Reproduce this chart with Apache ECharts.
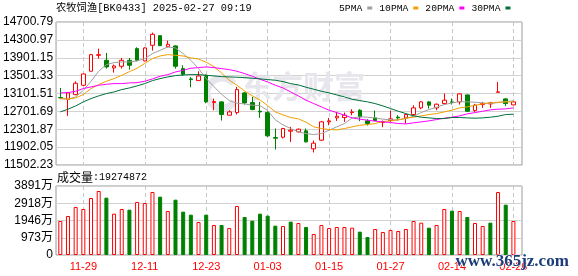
<!DOCTYPE html>
<html><head><meta charset="utf-8">
<script src="https://cdn.jsdelivr.net/npm/echarts@6/dist/echarts.min.js"></script>
<style>html,body{margin:0;padding:0;background:#fff;}#c{width:578px;height:276px;}</style>
</head><body><div id="c"></div>
<script>
const titleText = '农牧饲渔[BK0433] 2025-02-27 09:19';
const volumeText = '成交量:19274872';
const watermarkText = '东方财富';
const siteText = 'www.365jz.com';

const dates = ['11-26','11-27','11-28','11-29','12-02','12-03','12-04','12-05','12-06','12-09',
  '12-10','12-11','12-12','12-13','12-16','12-17','12-18','12-19','12-20','12-23',
  '12-24','12-25','12-26','12-27','12-30','12-31','01-02','01-03','01-06','01-07',
  '01-08','01-09','01-10','01-13','01-14','01-15','01-16','01-17','01-20','01-21',
  '01-22','01-23','01-24','01-27','02-05','02-06','02-07','02-10','02-11','02-12',
  '02-13','02-14','02-17','02-18','02-19','02-20','02-21','02-24','02-25','02-26'];

const opens = [13010,12973,13077,13286,13599,13956,13844,13673,13710,13844,
  14105,13830,14180,14395,14150,14165,13658,13428,13390,13509,
  12899,12914,12616,12675,13115,12899,12705,12675,12117,12124,
  12258,12244,12266,11864,12057,12467,12556,12564,12675,12727,
  12489,12556,12452,12497,12571,12556,12631,12780,12914,12780,
  12876,12914,12914,13070,12720,12854,12869,13128,12981,12847];
const closes = [13003,13115,13331,13539,13971,13970,13696,13718,13844,13733,
  13844,14120,14425,14172,14202,13710,13532,13413,13494,12914,
  12921,12631,12690,13189,12891,12742,12690,12154,12102,12318,
  12281,12303,12020,11990,12467,12489,12593,12616,12690,12579,
  12430,12497,12474,12534,12556,12631,12780,12914,12839,12862,
  12951,12899,13093,12705,12839,12876,12891,13137,12876,12914];
const lows = [12973,12601,13063,13271,13599,13882,13658,13569,13658,13636,
  13822,13822,14060,14165,14135,13658,13494,13241,13390,12884,
  12727,12497,12616,12631,12854,12727,12556,12132,11849,12095,
  12020,12229,12005,11782,12042,12392,12489,12467,12616,12482,
  12385,12482,12348,12467,12497,12430,12601,12750,12765,12727,
  12854,12854,12854,12690,12690,12780,12780,13128,12824,12839];
const highs = [13226,13137,13375,13547,13986,14105,14008,13748,13897,13897,
  14135,14135,14463,14395,14284,14180,13733,13472,13599,13524,
  12988,12929,12727,13249,13137,13025,12914,12705,12318,12333,
  12355,12318,12318,12050,12489,12556,12690,12675,12750,12750,
  12526,12720,12497,12720,12616,12653,12839,12929,12929,12877,
  13100,12988,13100,13078,12869,12914,12914,13360,12996,12929];

const ma5 = [12988,12973,13025,13174,13375,13599,13748,13792,13807,13807,
  13830,13882,13993,14068,14142,14120,13993,13844,13658,13435,
  13256,13085,12943,12884,12869,12839,12832,12720,12511,12400,
  12318,12244,12206,12184,12206,12281,12355,12430,12556,12579,
  12571,12556,12527,12512,12512,12541,12593,12675,12742,12795,
  12854,12891,12921,12914,12906,12891,12877,12899,12921,12936];
const ma10 = [12988,12973,13003,13078,13212,13301,13375,13435,13509,13591,
  13666,13777,13882,13941,13971,13956,13941,13897,13874,13800,
  13703,13561,13398,13286,13159,13048,12958,12832,12690,12623,
  12564,12534,12460,12355,12318,12296,12288,12318,12355,12392,
  12407,12430,12474,12489,12512,12549,12571,12601,12631,12653,
  12690,12728,12780,12802,12839,12869,12891,12906,12914,12914];
const ma20 = [13115,13122,13152,13212,13249,13286,13308,13323,13323,13338,
  13345,13375,13428,13487,13524,13584,13621,13666,13681,13696,
  13681,13658,13636,13599,13547,13487,13420,13360,13286,13226,
  13137,13048,12951,12876,12802,12728,12675,12616,12556,12527,
  12504,12482,12467,12452,12430,12422,12445,12467,12489,12519,
  12549,12571,12601,12646,12675,12705,12735,12750,12757,12780];
const ma30 = [12690,12750,12824,12914,12988,13048,13100,13137,13189,13226,
  13271,13323,13390,13435,13472,13502,13517,13524,13524,13509,
  13494,13480,13472,13465,13457,13442,13428,13413,13398,13368,
  13323,13293,13241,13197,13152,13115,13070,13025,12973,12943,
  12914,12876,12824,12765,12705,12653,12601,12571,12556,12541,
  12541,12564,12564,12556,12549,12556,12571,12593,12631,12638];

const volumes = [1917,2199,2707,2594,3214,3609,3233,2331,2594,2556,
  2989,2932,3553,3289,2481,3120,2444,2274,1861,2274,
  1692,1692,1522,2763,2143,1936,2331,2218,1654,1635,
  1880,1804,1579,1184,1692,1522,1579,1579,1541,1316,
  1015,1466,1297,1410,1353,1466,1917,1823,1541,1692,
  2594,2500,2481,2143,1804,1635,1823,3553,2838,1917];
const volumeUp = [1,1,1,1,1,1,0,1,1,0, 1,1,1,0,1,0,0,0,1,0,
  1,0,1,1,0,0,0,0,0,1, 0,1,0,1,1,1,1,1,1,0,
  0,1,1,1,1,1,1,1,0,1, 1,0,1,0,1,1,0,1,0,1];

const priceTicks = ['11502.23','11902.05','12301.87','12701.69','13101.51','13501.33','13901.15','14300.97','14700.79'];
const volumeTicks = ['0','973万','1946万','2918万','3891万'];
const maNames = ['5PMA','10PMA','20PMA','30PMA'];
const maColors = ['#a0a0a0','#f0a000','#ff00ff','#00703a'];

const RED = '#ff0000', GREEN = '#008000';
const labelIdx = (i) => (i - 3) % 8 === 0;
const DL = 60.3, DW = 453.1;

const chart = echarts.init(document.getElementById('c'), null, {renderer: 'canvas'});
const maData = [ma5, ma10, ma20, ma30];

chart.setOption({
  animation: false,
  backgroundColor: '#fff',
  title: {
    text: titleText, left: 56, top: 2, padding: 0,
    textStyle: {fontFamily: 'Liberation Mono, Noto Sans CJK SC', fontSize: 10.3, fontWeight: 'normal', color: '#000', lineHeight: 12}
  },
  legend: {
    data: maNames, left: 339, top: 3, padding: 0, align: 'right', icon: 'rect',
    itemWidth: 5, itemHeight: 3, itemGap: 7, selectedMode: false,
    textStyle: {fontFamily: 'Liberation Mono', fontSize: 9.7, color: '#000'}
  },
  grid: [
    {left: 56, top: 22, width: 466, height: 143, show: true, borderColor: '#999', borderWidth: 1, backgroundColor: 'transparent'},
    {left: DL, top: 22, width: DW, height: 143},
    {left: 56, top: 186, width: 466, height: 69, show: true, borderColor: '#999', borderWidth: 1, backgroundColor: 'transparent'},
    {left: DL, top: 186, width: DW, height: 69}
  ],
  xAxis: [
    {gridIndex: 0, type: 'value', min: 0, max: 1, show: false},
    {gridIndex: 1, type: 'category', data: dates, boundaryGap: false,
      axisLine: {show: false}, axisTick: {show: false}, axisLabel: {show: false},
      splitLine: {show: true, interval: labelIdx, lineStyle: {color: '#c8c8c8', type: [4, 3], width: 1}}},
    {gridIndex: 2, type: 'value', min: 0, max: 1, show: false},
    {gridIndex: 3, type: 'category', data: dates, boundaryGap: false,
      axisLine: {show: false}, axisTick: {show: false},
      axisLabel: {show: true, interval: labelIdx, color: RED, fontSize: 11, fontFamily: 'Liberation Sans', margin: 6},
      splitLine: {show: true, interval: labelIdx, lineStyle: {color: '#c8c8c8', type: [4, 3], width: 1}}}
  ],
  yAxis: [
    {gridIndex: 0, type: 'value', min: 0, max: 8, interval: 1,
      axisLine: {show: false}, axisTick: {show: false},
      axisLabel: {formatter: (v) => priceTicks[v], color: '#000', fontSize: 12, fontFamily: 'Liberation Sans', margin: 3},
      splitLine: {show: true, lineStyle: {color: '#d2d2d2', width: 1}}},
    {gridIndex: 1, type: 'value', min: 11502.23, max: 14700.79, show: false},
    {gridIndex: 2, type: 'value', min: 0, max: 4, interval: 1,
      axisLine: {show: false}, axisTick: {show: false},
      axisLabel: {formatter: (v) => volumeTicks[v], color: '#000', fontSize: 12, fontFamily: 'Liberation Sans, Noto Sans CJK SC', margin: 3},
      splitLine: {show: true, lineStyle: {color: '#d2d2d2', width: 1}}},
    {gridIndex: 3, type: 'value', min: 0, max: 3891, show: false}
  ],
  graphic: [
    {type: 'arc', z: 1, silent: true, shape: {cx: 222, cy: 93, r: 15, startAngle: 0.6, endAngle: 5.6},
      style: {stroke: '#e6e6ec', lineWidth: 7, fill: null}},
    {type: 'text', left: 241, top: 71, z: 1, silent: true,
      style: {text: watermarkText, fontSize: 31, fontWeight: 'bold', fontFamily: 'Noto Sans CJK SC', fill: '#e6e6ec'}},
    {type: 'text', left: 57, top: 171, z: 10,
      style: {text: '{a|' + volumeText.slice(0, 3) + '}{b|' + volumeText.slice(3) + '}',
        rich: {a: {fontFamily: 'Noto Sans CJK SC', fontSize: 12, fill: '#000'}, b: {fontFamily: 'Liberation Mono', fontSize: 10, fill: '#000'}}}},
    {type: 'text', left: 455, top: 253, z: 100, silent: true,
      style: {text: siteText, fontSize: 17, fontWeight: 'bold', fontFamily: 'Liberation Serif', fill: '#1c3c7a', stroke: '#fff', lineWidth: 1}}
  ],
  series: [
    {type: 'candlestick', xAxisIndex: 1, yAxisIndex: 1, barWidth: 4, clip: false, z: 5,
      data: dates.map((d, i) => [opens[i], closes[i], lows[i], highs[i]]),
      itemStyle: {color: '#fff', color0: GREEN, borderColor: RED, borderColor0: GREEN, borderWidth: 1}},
    ...maNames.map((n, k) => ({
      name: n, type: 'line', xAxisIndex: 1, yAxisIndex: 1, data: maData[k], symbol: 'none', smooth: false,
      color: maColors[k], lineStyle: {color: maColors[k], width: 1}, z: 6
    })),
    {type: 'bar', xAxisIndex: 3, yAxisIndex: 3, barWidth: 4, clip: false, z: 5,
      data: volumes.map((v, i) => ({value: v, itemStyle: volumeUp[i]
        ? {color: '#fff', borderColor: RED, borderWidth: 1}
        : {color: GREEN, borderColor: GREEN, borderWidth: 1}}))}
  ]
});
</script></body></html>
